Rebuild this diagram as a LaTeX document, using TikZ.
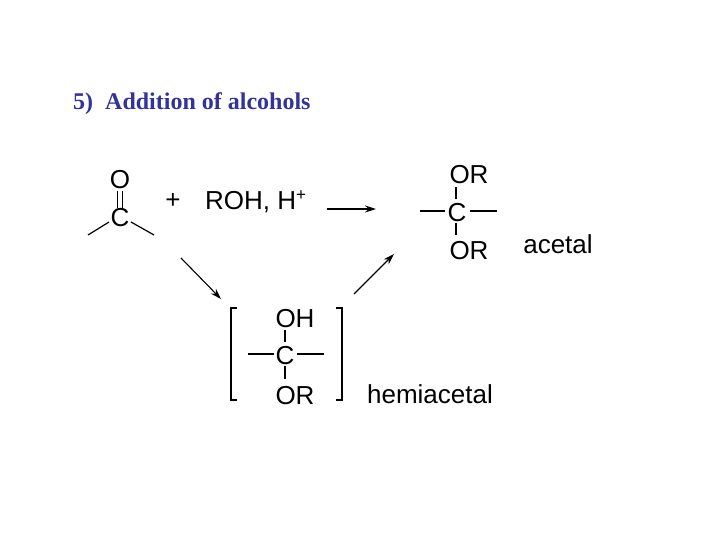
\documentclass[tikz,border=0pt]{standalone}
\usepackage{fontspec}
\setmainfont{Liberation Serif}
\setsansfont{Liberation Sans}
\usetikzlibrary{arrows.meta}
\definecolor{titleblue}{HTML}{333399}
\tikzset{
  chem/.style={font=\sffamily\fontsize{26}{30}\selectfont, inner sep=0pt, text=black, yshift=-2pt},
  bond/.style={line width=1.2pt},
  rxn/.style={line width=1.1pt, -{Stealth[length=11pt,width=7pt]}},
  brk/.style={line width=1.1pt}
}
\begin{document}
\begin{tikzpicture}[x=1pt,y=-1pt]
\useasboundingbox (0,0) rectangle (720,540);
\node[font=\bfseries\fontsize{24}{28}\selectfont, text=titleblue, anchor=west, inner sep=0] (title) at (73,104) {5)\ \ Addition of alcohols};
% carbonyl
\node[chem] (O1) at (120,178) {O};
\node[chem] (C1) at (120,216) {C};
\draw[bond] ([xshift=-2.5pt]O1.south) ++(0,2) -- ++(0,17);
\draw[bond] ([xshift=2.5pt]O1.south) ++(0,2) -- ++(0,17);
\coordinate (l1) at (88,235); \coordinate (r1) at (154,235);
\draw[bond] (109,222) -- (l1);
\draw[bond] (131,222) -- (r1);
\node[chem] (plus) at (173,199) {+};
\node[chem, anchor=west] (roh) at (205,200) {ROH, H\raisebox{9pt}{\fontsize{17}{18}\selectfont +}};
% arrows
\coordinate (a1s) at (327,209); \coordinate (a1e) at (376,209);
\draw[rxn] (a1s) -- (a1e);
\coordinate (a2s) at (181,258); \coordinate (a2e) at (221,299);
\draw[rxn] (a2s) -- (a2e);
\coordinate (a3s) at (354,294); \coordinate (a3e) at (394,254);
\draw[rxn] (a3s) -- (a3e);
% acetal
\node[chem] (OR1) at (469,173) {OR};
\node[chem] (C2) at (457,211) {C};
\node[chem] (OR2) at (469,249) {OR};
\draw[bond] (456,187) -- (456,199);
\draw[bond] (456,223) -- (456,235);
\draw[bond] (420,211) -- (445,211);
\draw[bond] (470,211) -- (497,211);
\node[chem] (acetal) at (558,242) {acetal};
% hemiacetal
\node[chem] (OH) at (295,317) {OH};
\node[chem] (C3) at (285,354) {C};
\node[chem] (OR3) at (295,394) {OR};
\draw[bond] (285,330) -- (285,342);
\draw[bond] (285,366) -- (285,379);
\draw[bond] (248,354) -- (274,354);
\draw[bond] (297,354) -- (324,354);
\draw[brk] (237,308) -- (231,308) -- (231,400) -- (237,400);
\draw[brk] (336,308) -- (342,308) -- (342,400) -- (336,400);
\node[chem] (hemi) at (430,392) {hemiacetal};
\end{tikzpicture}
\end{document}
